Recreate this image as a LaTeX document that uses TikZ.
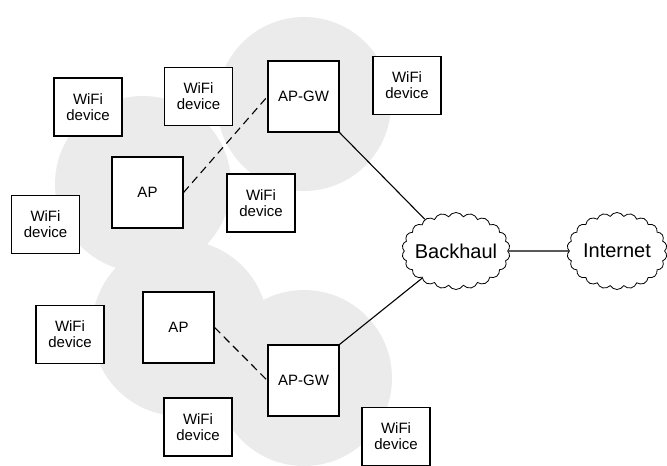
\documentclass[tikz,border=0pt]{standalone}
\usepackage{fontspec}
\setmainfont{Liberation Sans}
\usetikzlibrary{shapes.symbols}
\begin{document}
\begin{tikzpicture}[x=1pt, y=-1pt,
    box/.style={draw, fill=white, line width=1.1pt, align=center, inner sep=0pt,
      font=\fontsize{15}{16}\selectfont},
    dev/.style={box, minimum width=68pt, minimum height=58pt},
    ap/.style={box, minimum width=71pt, minimum height=71pt},
    net/.style={cloud, draw, fill=white, line width=0.8pt, cloud puffs=22,
      cloud puff arc=120, cloud ignores aspect, inner xsep=-14pt, inner ysep=0pt,
      font=\fontsize{20}{22}\selectfont},
    cover/.style={fill=black!8, draw=none},
    link/.style={line width=1.1pt},
    radio/.style={link, dash pattern=on 8pt off 5pt}]
  \useasboundingbox (0, 0) rectangle (667, 466);
  \fill[cover] (304, 104) circle (87);
  \fill[cover] (143, 184) circle (88);
  \fill[cover] (180, 328) circle (88);
  \fill[cover] (304, 378) circle (88);
  \node[dev] (D1) at (88, 107)    {WiFi\\device};
  \node[dev] (D2) at (198.5, 96.5) {WiFi\\device};
  \node[dev] (D3) at (407, 85.5)  {WiFi\\device};
  \node[dev] (D4) at (261, 203)   {WiFi\\device};
  \node[dev] (D5) at (45.5, 224.5) {WiFi\\device};
  \node[dev] (D6) at (70, 334.5)  {WiFi\\device};
  \node[dev] (D7) at (198, 427)   {WiFi\\device};
  \node[dev] (D8) at (396, 436.5) {WiFi\\device};
  \node[ap] (A1) at (147.5, 192.5) {AP};
  \node[ap] (A2) at (178.5, 327.5) {AP};
  \node[ap] (G1) at (303.5, 96.5)  {AP-GW};
  \node[ap] (G2) at (303.5, 380.5) {AP-GW};
  \node[net, minimum width=108pt, minimum height=77pt] (B) at (456, 251) {Backhaul};
  \node[net, minimum width=100pt, minimum height=77pt] (I) at (617, 251) {Internet};
  \draw[radio] (A1.east) -- (G1.west);
  \draw[radio] (A2.east) -- (G2.west);
  \draw[link]  (G1.south east) -- (B);
  \draw[link]  (G2.north east) -- (B);
  \draw[link]  (B) -- (I);
\end{tikzpicture}
\end{document}
